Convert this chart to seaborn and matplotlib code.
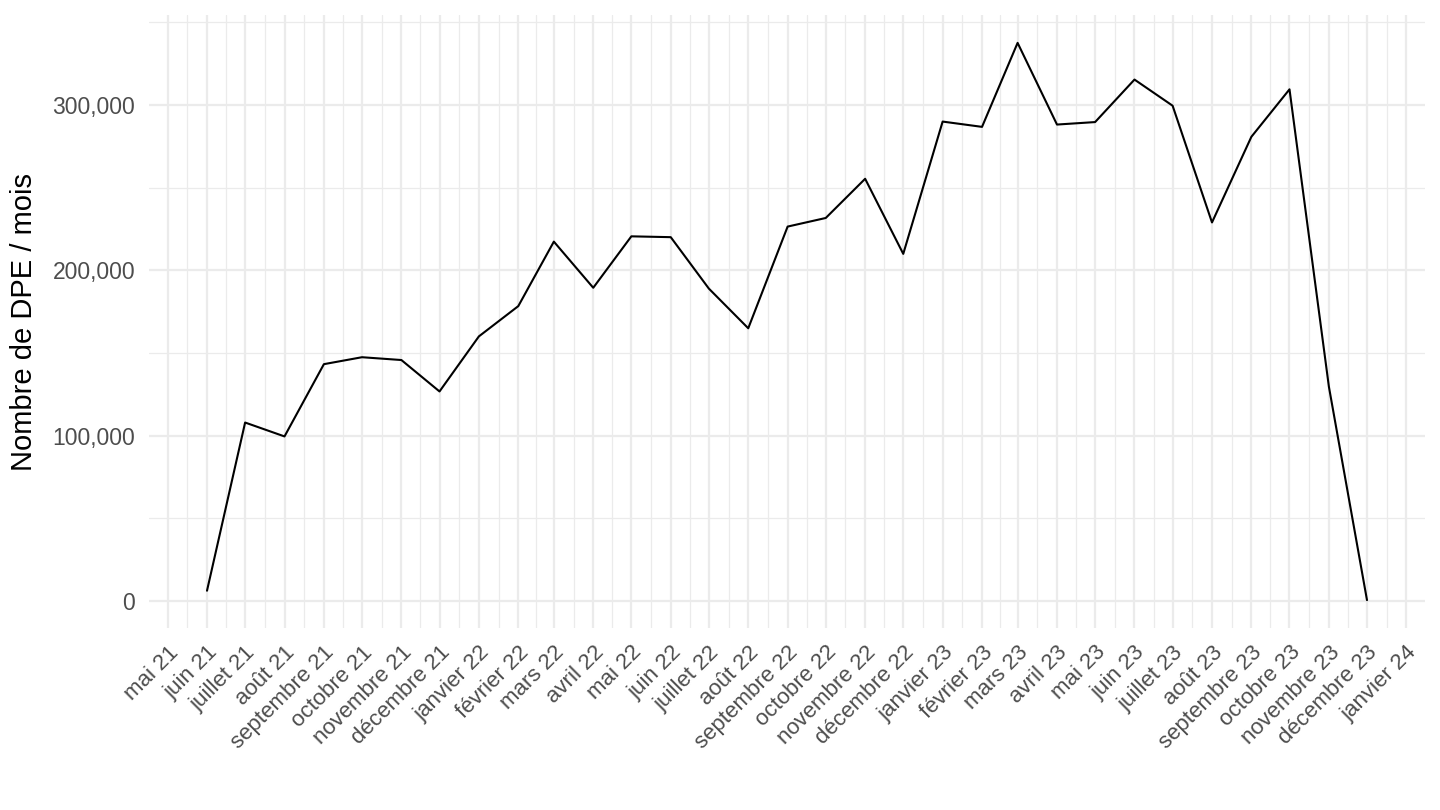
import matplotlib
matplotlib.use("Agg")
import matplotlib.pyplot as plt
import matplotlib.dates as mdates
from matplotlib.ticker import FuncFormatter, FixedLocator
import seaborn as sns
import pandas as pd
import numpy as np

# ---- data ----
months = pd.date_range("2021-06-01", "2023-12-01", freq="MS")
dpe_counts = [6200, 107900, 99500, 143200, 147400, 145700, 126700,
              160000, 178300, 217300, 189400, 220500, 220000, 188900,
              164900, 226400, 231600, 255300, 209900,
              289900, 286700, 337500, 288100, 289600, 315300, 299500,
              228900, 280700, 309400, 129600, 500]

tick_dates = pd.date_range("2021-05-01", "2024-01-01", freq="MS")
tick_labels = ["mai 21", "juin 21", "juillet 21", "août 21", "septembre 21",
               "octobre 21", "novembre 21", "décembre 21",
               "janvier 22", "février 22", "mars 22", "avril 22", "mai 22",
               "juin 22", "juillet 22", "août 22", "septembre 22",
               "octobre 22", "novembre 22", "décembre 22",
               "janvier 23", "février 23", "mars 23", "avril 23", "mai 23",
               "juin 23", "juillet 23", "août 23", "septembre 23",
               "octobre 23", "novembre 23", "décembre 23", "janvier 24"]
y_major = [0, 100000, 200000, 300000]
y_minor = [50000, 150000, 250000, 350000]

df = pd.DataFrame({"date": months, "n": dpe_counts})

sns.set_theme(style="white")
plt.rcParams["font.family"] = ["Liberation Sans", "DejaVu Sans"]

fig = plt.figure(figsize=(14.4, 8.1), dpi=100)
ax = fig.add_axes([149 / 1440, (810 - 628) / 810, (1425 - 149) / 1440, 613 / 810])

grid_col = "#EBEBEB"
sns.lineplot(data=df, x="date", y="n", ax=ax, color="black", linewidth=1.5, zorder=3)

# x scale (ggplot-like 5% expansion)
xnum = mdates.date2num(df["date"])
xr = xnum.max() - xnum.min()
ax.set_xlim(xnum.min() - 0.05 * xr, xnum.max() + 0.05 * xr)
yr = max(dpe_counts) - min(dpe_counts)
ax.set_ylim(min(dpe_counts) - 0.05 * yr, max(dpe_counts) + 0.05 * yr)

tnum = mdates.date2num(tick_dates)
ax.xaxis.set_major_locator(FixedLocator(tnum))
ax.set_xticklabels(tick_labels, rotation=45, ha="right", va="top",
                   rotation_mode="anchor", fontsize=16, color="#4D4D4D")
ax.xaxis.set_minor_locator(FixedLocator((tnum[:-1] + tnum[1:]) / 2))

ax.yaxis.set_major_locator(FixedLocator(y_major))
ax.yaxis.set_minor_locator(FixedLocator(y_minor))
ax.yaxis.set_major_formatter(FuncFormatter(lambda v, p: f"{int(v):,}"))
for lab in ax.get_yticklabels():
    lab.set_fontsize(16.5)
    lab.set_color("#4D4D4D")

ax.grid(True, which="major", color=grid_col, linewidth=1.6, zorder=0)
ax.grid(True, which="minor", color=grid_col, linewidth=0.9, zorder=0)
ax.set_axisbelow(True)
ax.tick_params(axis="both", which="both", length=0)
ax.tick_params(axis="y", pad=10)
ax.tick_params(axis="x", pad=10)
for s in ax.spines.values():
    s.set_visible(False)

ax.set_xlabel("")
ax.set_ylabel("Nombre de DPE / mois", fontsize=21, color="black", labelpad=10)
ax.set_facecolor("white")

fig.savefig("out.png", dpi=100, facecolor="white")
